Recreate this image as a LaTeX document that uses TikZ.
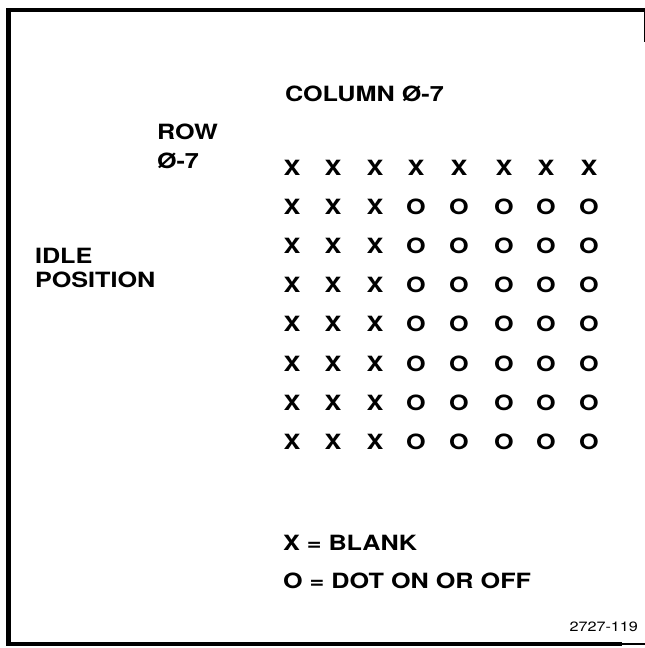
\documentclass[tikz,border=0pt]{standalone}
\usepackage{fontspec}
\setmainfont{TeX Gyre Heros}[FakeStretch=1.2]
\begin{document}
\begin{tikzpicture}[x=1pt,y=1pt,
  lbl/.style={inner sep=0pt,outer sep=0pt,font=\fontsize{21}{24}\selectfont\bfseries},
  cell/.style={lbl,anchor=base},
  small/.style={inner sep=0pt,outer sep=0pt,font=\fontsize{13.5}{16}\selectfont}]
\useasboundingbox (0,0) rectangle (645,-648);
% frame
\draw[line width=5pt] (8,-8) -- (8,-646);
\draw[line width=4pt] (6,-10) -- (645,-10);
\draw[line width=3.5pt] (6,-644) -- (622,-644);
\draw[line width=2pt] (622,-644) -- (645,-644);
\draw[line width=1pt] (644,-10) -- (644,-42);
% labels
\node[lbl,anchor=base west] (col) at (285,-101) {COLUMN Ø-7};
\node[lbl,anchor=base west] (row) at (157,-139) {ROW};
\node[lbl,anchor=base west] (rowr) at (157,-168) {Ø-7};
\node[lbl,anchor=base west] (idle) at (35,-263) {IDLE};
\node[lbl,anchor=base west] (pos) at (35,-287) {POSITION};
\node[lbl,anchor=base west] (legx) at (283,-550) {X = BLANK};
\node[lbl,anchor=base west] (lego) at (283,-588) {O = DOT ON OR OFF};
\node[small,anchor=base east] (fig) at (638,-631) {2727-119};
% grid
\foreach \r/\yy in {0/175,1/214,2/253.5,3/292.5,4/331.5,5/371,6/410,7/449}{
  \foreach \c/\xx in {0/292,1/333,2/375,3/416,4/459,5/504,6/546,7/589}{
    \pgfmathsetmacro{\isx}{(\r==0 || \c<3) ? 1 : 0}
    \ifnum\isx=1
      \node[cell] (g-\r-\c) at (\xx,-\yy) {X};
    \else
      \node[cell] (g-\r-\c) at (\xx,-\yy) {O};
    \fi
  }
}
\end{tikzpicture}
\end{document}
